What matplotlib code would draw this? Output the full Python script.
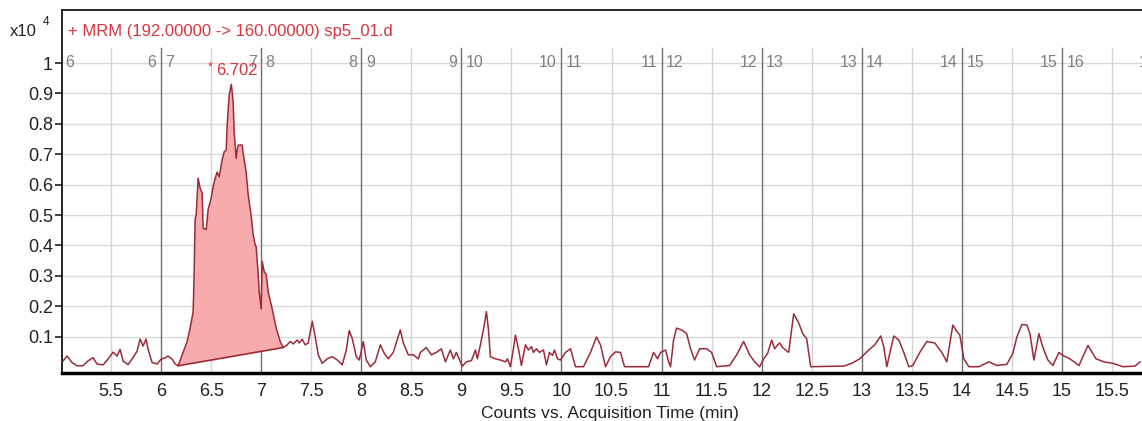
import numpy as np
import matplotlib
matplotlib.use("Agg")
import matplotlib.pyplot as plt

plt.rcParams['font.family'] = ['Liberation Sans', 'DejaVu Sans']

# retention time (min) and counts (x10^4) before the integrated peak
rt_before = [5.02, 5.06, 5.11, 5.16, 5.22, 5.27, 5.32, 5.36, 5.42, 5.47, 5.52, 5.56,
             5.59, 5.62, 5.67, 5.72, 5.76, 5.79, 5.82, 5.85, 5.87, 5.91, 5.96, 6.00,
             6.04, 6.07, 6.11, 6.14]
counts_before = [0.020, 0.036, 0.015, 0.004, 0.004, 0.020, 0.031, 0.010, 0.007, 0.026,
                 0.049, 0.036, 0.058, 0.020, 0.008, 0.031, 0.052, 0.092, 0.069, 0.092,
                 0.058, 0.015, 0.010, 0.026, 0.030, 0.036, 0.026, 0.010]

# integrated peak, first and last point are the baseline ends
rt_peak = [6.17, 6.26, 6.29, 6.32, 6.33, 6.34, 6.35, 6.37, 6.39, 6.41, 6.42, 6.45,
           6.47, 6.50, 6.52, 6.54, 6.56, 6.58, 6.61, 6.63, 6.65, 6.66, 6.68, 6.702,
           6.72, 6.73, 6.75, 6.76, 6.77, 6.81, 6.82, 6.85, 6.87, 6.90, 6.92, 6.94,
           6.95, 6.97, 6.98, 7.00, 7.01, 7.03, 7.05, 7.07, 7.11, 7.15, 7.19, 7.22]
counts_peak = [0.004, 0.084, 0.128, 0.182, 0.304, 0.488, 0.498, 0.621, 0.588, 0.572,
               0.457, 0.452, 0.518, 0.555, 0.593, 0.621, 0.641, 0.626, 0.682, 0.708,
               0.713, 0.795, 0.895, 0.930, 0.872, 0.774, 0.686, 0.713, 0.730, 0.730,
               0.703, 0.641, 0.566, 0.498, 0.435, 0.401, 0.396, 0.304, 0.247, 0.191,
               0.347, 0.314, 0.304, 0.247, 0.191, 0.128, 0.084, 0.064]

# after the peak
rt_after = [7.26, 7.29, 7.32, 7.36, 7.38, 7.41, 7.44, 7.47, 7.51, 7.54, 7.57, 7.61,
            7.66, 7.71, 7.76, 7.81, 7.85, 7.88, 7.91, 7.95, 7.98, 8.02, 8.05, 8.09,
            8.14, 8.19, 8.23, 8.27, 8.32, 8.39, 8.42, 8.47, 8.52, 8.57,
            8.59, 8.65, 8.70, 8.75, 8.80, 8.84, 8.89, 8.92, 8.95, 8.99, 9.01, 9.05,
            9.10, 9.14, 9.16, 9.19, 9.22, 9.25, 9.27, 9.29, 9.34, 9.39, 9.44, 9.46,
            9.49, 9.52, 9.54, 9.57, 9.60, 9.64, 9.67, 9.70, 9.72, 9.75, 9.78, 9.82,
            9.85, 9.88, 9.91, 9.93, 9.96, 9.99, 10.04, 10.09, 10.14, 10.22, 10.29,
            10.35, 10.39, 10.44, 10.49, 10.54, 10.59, 10.63, 10.87, 10.92, 10.96,
            10.99, 11.04, 11.07, 11.09, 11.12, 11.15, 11.20, 11.25, 11.29, 11.33,
            11.38, 11.45, 11.50, 11.55, 11.68, 11.75, 11.82, 11.88, 11.93, 11.98,
            12.02, 12.06, 12.10, 12.13, 12.16,
            12.18, 12.21, 12.27, 12.32, 12.37, 12.41, 12.45, 12.49, 12.82, 12.90,
            12.98, 13.07, 13.13, 13.19, 13.22, 13.25, 13.28, 13.32, 13.37, 13.42,
            13.47, 13.51, 13.58, 13.65, 13.73, 13.80, 13.85, 13.91, 13.95, 13.98,
            14.02, 14.07, 14.17, 14.27, 14.35, 14.45, 14.51, 14.55, 14.60, 14.65,
            14.68, 14.72, 14.77, 14.81, 14.86, 14.91, 14.97, 15.01, 15.08, 15.17,
            15.26, 15.34, 15.42, 15.51, 15.61, 15.73, 15.78]
counts_after = [0.073, 0.084, 0.076, 0.089, 0.079, 0.091, 0.073, 0.079, 0.150, 0.099,
                0.040, 0.012, 0.027, 0.034, 0.023, 0.007, 0.056, 0.120, 0.093, 0.034,
                0.023, 0.084, 0.023, 0.001, 0.017, 0.073, 0.045, 0.027, 0.048, 0.122,
                0.079, 0.040, 0.040, 0.027,
                0.048, 0.064, 0.040, 0.048, 0.060, 0.017, 0.056, 0.027, 0.048, 0.017,
                0.003, 0.017, 0.021, 0.056, 0.027, 0.073, 0.122, 0.182, 0.125, 0.034,
                0.027, 0.023, 0.017, 0.027, 0.001, 0.060, 0.105, 0.060, 0.005, 0.073,
                0.056, 0.067, 0.048, 0.060, 0.048, 0.056, 0.007, 0.048, 0.038, 0.056,
                0.027, 0.023, 0.048, 0.060, 0.001, 0.001, 0.048, 0.099, 0.073, 0.001,
                0.034, 0.050, 0.048, 0.001, 0.001, 0.048, 0.027, 0.048, 0.056, 0.017,
                0.001, 0.089, 0.128, 0.122, 0.110, 0.060, 0.023, 0.060, 0.060, 0.048,
                0.001, 0.005, 0.040, 0.084, 0.040, 0.017, 0.000, 0.027, 0.045, 0.089,
                0.060, 0.073,
                0.079, 0.064, 0.048, 0.175, 0.145, 0.110, 0.093, 0.001, 0.003, 0.012,
                0.027, 0.056, 0.073, 0.102, 0.067, 0.001, 0.045, 0.102, 0.089, 0.048,
                0.001, 0.005, 0.048, 0.084, 0.079, 0.048, 0.017, 0.138, 0.117, 0.105,
                0.027, 0.001, 0.001, 0.017, 0.005, 0.009, 0.045, 0.099, 0.140, 0.138,
                0.110, 0.023, 0.110, 0.064, 0.023, 0.005, 0.048, 0.038, 0.027, 0.005,
                0.071, 0.027, 0.017, 0.012, 0.001, 0.003, 0.017]

y_ticks = [0.1, 0.2, 0.3, 0.4, 0.5, 0.6, 0.7, 0.8, 0.9, 1.0]
y_labels = ['0.1', '0.2', '0.3', '0.4', '0.5', '0.6', '0.7', '0.8', '0.9', '1']
x_ticks = [5.5, 6, 6.5, 7, 7.5, 8, 8.5, 9, 9.5, 10, 10.5, 11, 11.5, 12, 12.5,
           13, 13.5, 14, 14.5, 15, 15.5]
x_labels = ['5.5', '6', '6.5', '7', '7.5', '8', '8.5', '9', '9.5', '10', '10.5', '11',
            '11.5', '12', '12.5', '13', '13.5', '14', '14.5', '15', '15.5']
segments = [6, 7, 8, 9, 10, 11, 12, 13, 14, 15]

TRACE = '#9c2b3a'
RED = '#d8343e'
GREY = '#7f7f7f'
INK = '#222222'

fig = plt.figure(figsize=(11.42, 4.21), dpi=100)
ax = fig.add_axes([0.0543, 0.114, 0.9457, 0.862])
ax.set_xlim(5.01, 15.80)
ax.set_ylim(-0.0197, 1.174)

# grid and segment dividers
for y in y_ticks:
    ax.axhline(y, color='#d9d9d9', lw=1, zorder=0)
for x in np.arange(5.5, 15.6, 1.0):
    ax.axvline(x, ymax=0.895, color='#d4d4d4', lw=1, zorder=0)
for s in segments:
    ax.axvline(s, ymax=0.895, color='#6e6e6e', lw=1, zorder=0.5)
    ax.text(s - 0.045, 1.003, str(s), ha='right', va='center', color=GREY, fontsize=11.5)
    ax.text(s + 0.045, 1.003, str(s + 1), ha='left', va='center', color=GREY, fontsize=11.5)
ax.text(5.04, 1.003, '6', ha='left', va='center', color=GREY, fontsize=11.5)
ax.text(15.765, 1.003, '16', ha='left', va='center', color=GREY, fontsize=11.5, clip_on=True)

# chromatogram
rt = np.concatenate([rt_before, rt_peak, rt_after])
counts = np.concatenate([counts_before, counts_peak, counts_after])
ax.fill(rt_peak, counts_peak, facecolor='#f7abac', edgecolor='none', zorder=1)
ax.plot([rt_peak[0], rt_peak[-1]], [counts_peak[0], counts_peak[-1]], color=TRACE, lw=1.2, zorder=2)
ax.plot(rt, counts, color=TRACE, lw=1.1, zorder=3)

# apex label
i_max = int(np.argmax(counts_peak))
ax.text(rt_peak[i_max] - 0.235, counts_peak[i_max] + 0.055, '*', color=RED, fontsize=9,
        ha='left', va='center')
ax.text(rt_peak[i_max] + 0.052, counts_peak[i_max] + 0.044, f'{rt_peak[i_max]:.3f}',
        color=RED, fontsize=12, ha='center', va='center')

ax.text(0.006, 0.942, '+ MRM (192.00000 -> 160.00000) sp5_01.d', transform=ax.transAxes,
        color=RED, fontsize=12, ha='left', va='center')
fig.text(0.009, 0.926, 'x10', fontsize=12, ha='left', va='center', color=INK)
fig.text(0.0375, 0.947, '4', fontsize=8.5, ha='left', va='center', color=INK)

ax.set_yticks(y_ticks)
ax.set_yticklabels(y_labels)
ax.set_xticks(x_ticks)
ax.set_xticklabels(x_labels)
ax.tick_params(axis='y', direction='out', length=5, width=1.2, labelsize=13, pad=1.5, colors=INK)
ax.tick_params(axis='x', direction='out', length=0, labelsize=13, pad=7, colors=INK)
fig.text(610 / 1142, 0.019, 'Counts vs. Acquisition Time (min)', fontsize=12.5,
         ha='center', va='center', color=INK)

ax.spines['right'].set_visible(False)
ax.spines['bottom'].set_linewidth(2.5)
ax.spines['left'].set_linewidth(1.2)
ax.spines['top'].set_linewidth(1.2)

fig.savefig('out.png', dpi=100)
